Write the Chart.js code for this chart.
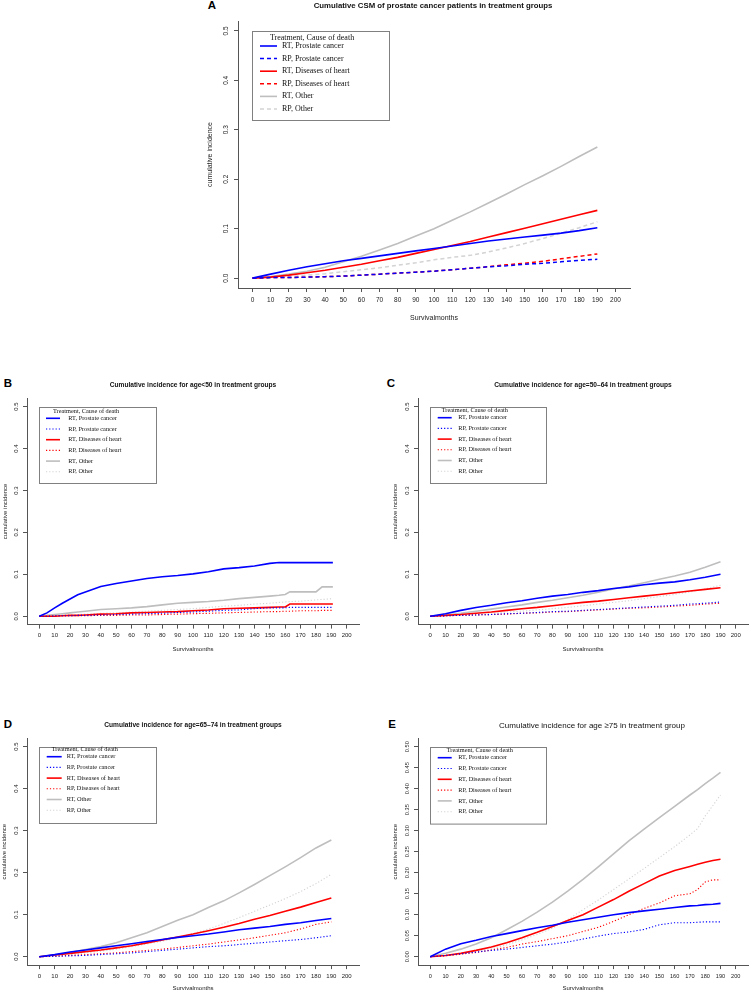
<!DOCTYPE html>
<html>
<head>
<meta charset="utf-8">
<script src="https://cdn.jsdelivr.net/npm/chart.js@4.4.0/dist/chart.umd.min.js"></script>
<style>
  body { margin: 0; background: #fff; width: 751px; height: 992px; position: relative; overflow: hidden;
         font-family: "Liberation Sans", Arial, sans-serif; }
  canvas { position: absolute; }
  .letter { position: absolute; font-weight: bold; font-size: 11.5px; line-height: 1; transform: translate(-50%, -50%); }
  .ttl { position: absolute; font-weight: bold; white-space: nowrap; line-height: 1; transform: translate(-50%, -50%);
         color: #111; filter: grayscale(1); }
</style>
</head>
<body>
<div class="letter" style="left:212px;top:6px">A</div>
<div class="letter" style="left:8px;top:384px">B</div>
<div class="letter" style="left:391px;top:384px">C</div>
<div class="letter" style="left:8px;top:725px">D</div>
<div class="letter" style="left:392px;top:725px">E</div>

<div class="ttl" style="left:433px;top:6px;font-size:7.8px">Cumulative CSM of prostate cancer patients in treatment groups</div>
<div class="ttl" style="left:193px;top:385px;font-size:6.6px">Cumulative incidence for age&lt;50 in treatment groups</div>
<div class="ttl" style="left:583px;top:385px;font-size:6.6px">Cumulative incidence for age=50–64 in treatment groups</div>
<div class="ttl" style="left:193px;top:725px;font-size:6.6px">Cumulative incidence for age=65–74 in treatment groups</div>
<div class="ttl" style="left:592px;top:726px;font-size:8px;font-weight:normal">Cumulative incidence for age ≥75 in treatment group</div>

<canvas id="cA"></canvas>
<canvas id="cB"></canvas>
<canvas id="cC"></canvas>
<canvas id="cD"></canvas>
<canvas id="cE"></canvas>

<script>
// legend entries, same order in every panel
const causes = ["RT, Prostate cancer", "RP, Prostate cancer", "RT, Diseases of heart",
                "RP, Diseases of heart", "RT, Other", "RP, Other"];
const xTicks = [0,10,20,30,40,50,60,70,80,90,100,110,120,130,140,150,160,170,180,190,200];
const yTicks = [0,0.1,0.2,0.3,0.4,0.5];
const yTicksE = [0,0.05,0.1,0.15,0.2,0.25,0.3,0.35,0.4,0.45,0.5];

// A: all patients
const monthsA = [0,10,20,30,40,50,60,70,80,90,100,110,120,130,140,150,160,170,180,190];
const A_rtPros  = [0,0.008,0.016,0.023,0.029,0.035,0.04,0.045,0.05,0.055,0.06,0.065,0.07,0.075,0.079,0.083,0.087,0.091,0.096,0.102];
const A_rpPros  = [0,0.001,0.001,0.002,0.003,0.004,0.006,0.008,0.01,0.012,0.014,0.017,0.02,0.023,0.025,0.028,0.03,0.033,0.036,0.038];
const A_rtHeart = [0,0.002,0.006,0.011,0.016,0.022,0.028,0.035,0.042,0.05,0.058,0.066,0.074,0.083,0.092,0.101,0.11,0.119,0.128,0.137];
const A_rpHeart = [0,0.001,0.001,0.002,0.003,0.004,0.006,0.008,0.01,0.012,0.014,0.017,0.02,0.023,0.027,0.03,0.034,0.039,0.044,0.049];
const A_rtOther = [0,0.003,0.008,0.014,0.022,0.033,0.044,0.057,0.07,0.085,0.1,0.117,0.134,0.152,0.17,0.189,0.207,0.226,0.246,0.265];
const A_rpOther = [0,0.001,0.003,0.006,0.009,0.013,0.017,0.021,0.026,0.031,0.037,0.042,0.046,0.053,0.061,0.07,0.08,0.091,0.102,0.114];

// B: age < 50
const monthsB = [0,5,10,15,20,25,30,40,50,60,70,80,90,100,110,120,130,140,150,156,160,163,170,180,184,191];
const B_rtPros  = [0,0.008,0.02,0.031,0.041,0.051,0.058,0.071,0.078,0.084,0.09,0.094,0.097,0.101,0.106,0.113,0.116,0.12,0.126,0.128,0.128,0.128,0.128,0.128,0.128,0.128];
const B_rpPros  = [0,0,0.001,0.001,0.001,0.002,0.002,0.003,0.004,0.005,0.006,0.007,0.009,0.01,0.012,0.014,0.015,0.018,0.02,0.02,0.02,0.021,0.021,0.021,0.021,0.021];
const B_rtHeart = [0,0,0,0.001,0.002,0.002,0.003,0.005,0.006,0.008,0.009,0.01,0.011,0.013,0.015,0.018,0.019,0.02,0.021,0.022,0.022,0.029,0.029,0.029,0.029,0.029];
const B_rpHeart = [0,0,0,0.001,0.001,0.001,0.001,0.002,0.002,0.003,0.003,0.004,0.005,0.006,0.007,0.008,0.009,0.01,0.011,0.011,0.012,0.012,0.013,0.013,0.014,0.014];
const B_rtOther = [0,0.002,0.004,0.006,0.008,0.01,0.012,0.016,0.018,0.02,0.023,0.027,0.031,0.033,0.035,0.038,0.042,0.045,0.048,0.05,0.052,0.058,0.058,0.058,0.07,0.07];
const B_rpOther = [0,0.001,0.002,0.003,0.004,0.004,0.005,0.007,0.008,0.01,0.012,0.014,0.016,0.018,0.021,0.024,0.026,0.029,0.031,0.033,0.034,0.035,0.036,0.039,0.04,0.042];

// C: age 50-64
const monthsC = [0,10,20,30,40,50,60,70,80,90,100,110,120,130,140,150,160,170,180,190];
const C_rtPros  = [0,0.006,0.014,0.021,0.026,0.032,0.037,0.043,0.048,0.052,0.057,0.061,0.066,0.07,0.075,0.079,0.082,0.087,0.093,0.1];
const C_rpPros  = [0,0.001,0.002,0.003,0.004,0.006,0.007,0.009,0.011,0.012,0.014,0.016,0.018,0.02,0.022,0.024,0.026,0.029,0.031,0.034];
const C_rtHeart = [0,0.002,0.004,0.007,0.01,0.014,0.018,0.021,0.025,0.029,0.033,0.036,0.04,0.044,0.048,0.052,0.056,0.06,0.064,0.068];
const C_rpHeart = [0,0.001,0.002,0.003,0.004,0.005,0.007,0.008,0.01,0.011,0.013,0.015,0.017,0.019,0.02,0.022,0.024,0.026,0.029,0.031];
const C_rtOther = [0,0.003,0.007,0.012,0.017,0.022,0.027,0.033,0.038,0.044,0.05,0.057,0.065,0.072,0.08,0.088,0.096,0.105,0.117,0.13];
const C_rpOther = [0,0.001,0.003,0.004,0.006,0.01,0.012,0.015,0.018,0.021,0.025,0.029,0.033,0.037,0.042,0.047,0.052,0.058,0.065,0.074];

// D: age 65-74
const monthsD = [0,10,20,30,40,50,60,70,80,90,100,110,120,130,140,150,160,170,180,190];
const D_rtPros  = [0,0.005,0.011,0.016,0.021,0.026,0.031,0.036,0.041,0.046,0.05,0.054,0.059,0.064,0.068,0.072,0.077,0.081,0.086,0.091];
const D_rpPros  = [0,0.001,0.002,0.003,0.005,0.007,0.009,0.012,0.015,0.018,0.021,0.024,0.026,0.029,0.032,0.035,0.038,0.041,0.045,0.05];
const D_rtHeart = [0,0.004,0.008,0.012,0.016,0.021,0.026,0.033,0.04,0.047,0.054,0.062,0.07,0.079,0.089,0.098,0.108,0.118,0.129,0.14];
const D_rpHeart = [0,0.001,0.003,0.005,0.007,0.009,0.012,0.015,0.018,0.022,0.026,0.03,0.035,0.04,0.045,0.051,0.057,0.066,0.077,0.083];
const D_rtOther = [0,0.004,0.01,0.017,0.024,0.033,0.045,0.057,0.072,0.087,0.1,0.117,0.133,0.152,0.172,0.193,0.214,0.236,0.259,0.278];
const D_rpOther = [0,0.002,0.005,0.009,0.013,0.018,0.024,0.03,0.037,0.045,0.055,0.066,0.079,0.093,0.108,0.123,0.138,0.155,0.174,0.196];

// E: age >= 75
const monthsE = [0,10,20,30,40,50,60,70,80,90,100,110,120,130,140,150,160,170,175,180,185,190];
const E_rtPros  = [0,0.018,0.031,0.039,0.048,0.055,0.062,0.069,0.075,0.082,0.088,0.094,0.1,0.105,0.109,0.113,0.117,0.121,0.122,0.124,0.125,0.127];
const E_rpPros  = [0,0.003,0.007,0.011,0.015,0.018,0.022,0.026,0.03,0.035,0.042,0.049,0.055,0.059,0.065,0.076,0.081,0.081,0.082,0.083,0.083,0.083];
const E_rtHeart = [0,0.003,0.008,0.015,0.023,0.033,0.045,0.058,0.072,0.086,0.1,0.118,0.136,0.156,0.174,0.192,0.205,0.215,0.22,0.225,0.229,0.232];
const E_rpHeart = [0,0.002,0.006,0.01,0.016,0.022,0.03,0.036,0.043,0.05,0.06,0.07,0.084,0.1,0.115,0.128,0.145,0.15,0.16,0.178,0.183,0.183];
const E_rtOther = [0,0.008,0.018,0.03,0.045,0.064,0.084,0.106,0.13,0.156,0.184,0.214,0.245,0.276,0.304,0.331,0.358,0.385,0.398,0.412,0.425,0.439];
const E_rpOther = [0,0.003,0.008,0.013,0.019,0.028,0.04,0.053,0.068,0.088,0.112,0.135,0.16,0.185,0.21,0.236,0.262,0.29,0.305,0.335,0.36,0.385];

Chart.defaults.font.family = '"Liberation Sans", Arial, sans-serif';

const BLUE = '#0000ff', RED = '#ff0000', GREY = '#bebebe', LIGHT = '#d3d3d3';
function lineStyles(rpDash, rpWidth) {
  return [[BLUE, 1.6, []], [BLUE, rpWidth, rpDash], [RED, 1.6, []],
          [RED, rpWidth, rpDash], [GREY, 1.6, []], [LIGHT, rpWidth, rpDash]];
}

function makePanel(id, box, area, months, series, o) {
  const cv = document.getElementById(id);
  cv.width = box.w; cv.height = box.h;
  cv.style.left = box.x + 'px'; cv.style.top = box.y + 'px';

  const datasets = series.map((vals, i) => ({
    label: causes[i],
    data: months.map((m, j) => ({x: m, y: vals[j]})),
    borderColor: o.styles[i][0], borderWidth: o.styles[i][1], borderDash: o.styles[i][2],
    pointRadius: 0, tension: 0, fill: false
  }));

  // R-style legend box drawn inside the plot
  const L = o.legend;
  const boxLegend = {
    id: 'boxLegend',
    afterDraw(chart) {
      const c = chart.ctx;
      c.save();
      c.translate(-box.x, -box.y);
      c.strokeStyle = '#808080'; c.lineWidth = 1; c.setLineDash([]);
      c.strokeRect(Math.round(L.x) + 0.5, Math.round(L.y) + 0.5, L.w, L.h);
      c.font = L.font + 'px "Liberation Serif", "Times New Roman", serif';
      c.fillStyle = '#111'; c.textBaseline = 'middle'; c.textAlign = 'left';
      c.fillText('Treatment, Cause of death', L.titleX, L.titleY);
      chart.data.datasets.forEach((d, i) => {
        const y = L.row0 + i * L.gap;
        c.strokeStyle = d.borderColor; c.lineWidth = d.borderWidth;
        c.setLineDash(d.borderDash);
        c.beginPath(); c.moveTo(L.s0, y); c.lineTo(L.s1, y); c.stroke();
        c.setLineDash([]);
        c.fillText(d.label, L.tx, y);
      });
      c.restore();
    }
  };

  new Chart(cv, {
    type: 'line',
    data: {datasets},
    options: {
      responsive: false, animation: false, events: [],
      layout: {padding: {left: 0, top: area.t - box.y, right: box.x + box.w - area.r, bottom: 0}},
      plugins: {legend: {display: false}, tooltip: {enabled: false}},
      scales: {
        x: {
          type: 'linear', min: -8, max: 208,
          afterBuildTicks: s => { s.ticks = xTicks.map(v => ({value: v})); },
          afterFit: s => { s.height = box.y + box.h - area.b; },
          ticks: {font: {size: o.tick}, color: '#222', padding: o.xPad, maxRotation: 0, autoSkip: false,
                  callback: v => String(v)},
          grid: {drawOnChartArea: false, tickLength: 4, color: '#555'},
          border: {color: '#555'},
          title: {display: true, text: 'Survivalmonths', color: '#222', font: {size: o.axis},
                  padding: {top: 0, bottom: o.xtPad}}
        },
        y: {
          min: -0.02, max: 0.52,
          afterBuildTicks: s => { s.ticks = o.yTicks.map(v => ({value: v})); },
          afterFit: s => { s.width = area.l - box.x; },
          ticks: {font: {size: o.tick}, color: '#222', minRotation: 90, maxRotation: 90, crossAlign: 'center',
                  padding: o.yPad, autoSkip: false, callback: v => v.toFixed(o.dec)},
          grid: {drawOnChartArea: false, tickLength: 4, color: '#555'},
          border: {color: '#555'},
          title: {display: true, text: 'cumulative incidence', color: '#222', font: {size: o.axis},
                  padding: {top: o.ytPad, bottom: 0}}
        }
      }
    },
    plugins: [boxLegend]
  });
}

const dashed = lineStyles([4, 3], 1.5);
const dotted = lineStyles([1.2, 2], 1.1);

makePanel('cA', {x: 195, y: 0, w: 450, h: 330}, {l: 238, t: 21, r: 630, b: 288},
  monthsA, [A_rtPros, A_rpPros, A_rtHeart, A_rpHeart, A_rtOther, A_rpOther],
  {styles: dashed, yTicks: yTicks, dec: 1, tick: 6.5, axis: 7, xPad: 4, yPad: 2.8, xtPad: 7.8, ytPad: 10.8,
   legend: {x: 252, y: 31, w: 137, h: 89, titleX: 270, titleY: 37.7, row0: 46, gap: 12.6,
            s0: 260, s1: 277, tx: 282, font: 8}});

makePanel('cB', {x: 0, y: 375, w: 372, h: 285}, {l: 27, t: 398.3, r: 359, b: 624.6},
  monthsB, [B_rtPros, B_rpPros, B_rtHeart, B_rpHeart, B_rtOther, B_rpOther],
  {styles: dotted, yTicks: yTicks, dec: 1, tick: 6, axis: 6, xPad: 3.5, yPad: 2.5, xtPad: 7.4, ytPad: 1.4,
   legend: {x: 39, y: 407, w: 117, h: 76, titleX: 53, titleY: 411.7, row0: 418.3, gap: 10.7,
            s0: 46, s1: 60, tx: 68.3, font: 6.3}});

makePanel('cC', {x: 375, y: 375, w: 376, h: 285}, {l: 418, t: 398.3, r: 748, b: 624.6},
  monthsC, [C_rtPros, C_rpPros, C_rtHeart, C_rpHeart, C_rtOther, C_rpOther],
  {styles: dotted, yTicks: yTicks, dec: 1, tick: 6, axis: 6, xPad: 3.5, yPad: 2.5, xtPad: 7.4, ytPad: 16.4,
   legend: {x: 430, y: 407, w: 116, h: 76, titleX: 441.7, titleY: 410.5, row0: 417.7, gap: 10.7,
            s0: 437.7, s1: 451.7, tx: 458.3, font: 6.3}});

makePanel('cD', {x: 0, y: 700, w: 372, h: 292}, {l: 27, t: 738.3, r: 359, b: 965.1},
  monthsD, [D_rtPros, D_rpPros, D_rtHeart, D_rpHeart, D_rtOther, D_rpOther],
  {styles: dotted, yTicks: yTicks, dec: 1, tick: 6, axis: 6, xPad: 3.5, yPad: 2.5, xtPad: 0.4, ytPad: 0.4,
   legend: {x: 39, y: 746.7, w: 117, h: 76, titleX: 51.7, titleY: 749.8, row0: 756.7, gap: 10.7,
            s0: 46.7, s1: 61.7, tx: 66.7, font: 6.3}});

makePanel('cE', {x: 375, y: 700, w: 376, h: 292}, {l: 418, t: 738.3, r: 748, b: 965.1},
  monthsE, [E_rtPros, E_rpPros, E_rtHeart, E_rpHeart, E_rtOther, E_rpOther],
  {styles: dotted, yTicks: yTicksE, dec: 2, tick: 5.6, axis: 6, xPad: 3.5, yPad: 1, xtPad: 0.4, ytPad: 17,
   legend: {x: 430, y: 746.7, w: 116, h: 76.6, titleX: 446.7, titleY: 750.3, row0: 757.7, gap: 10.8,
            s0: 437.7, s1: 451.7, tx: 458.3, font: 6.3}});
</script>
</body>
</html>
